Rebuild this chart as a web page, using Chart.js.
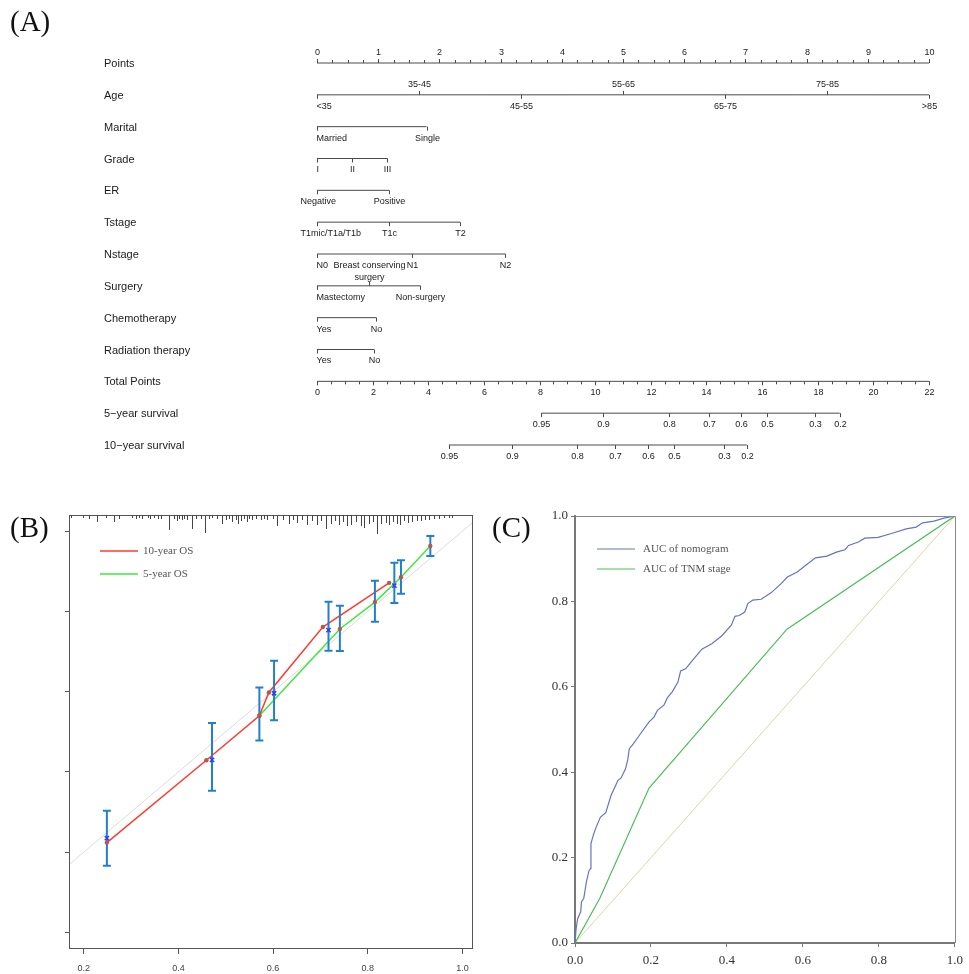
<!DOCTYPE html>
<html>
<head>
<meta charset="utf-8">
<script src="https://cdn.jsdelivr.net/npm/chart.js@4.4.1/dist/chart.umd.min.js"></script>
<style>
  body { margin: 0; background: #fff; }
  #wrap { position: relative; width: 969px; height: 974px; overflow: hidden; }
  canvas { position: absolute; }
  .tag { position: absolute; font: 29px/30px "Liberation Serif", "Times New Roman", serif; color: #111; }
</style>
</head>
<body>
<div id="wrap">
  <canvas id="nomo" width="969" height="470" style="left:0;top:0"></canvas>
  <canvas id="calib" width="490" height="479" style="left:0;top:495px"></canvas>
  <canvas id="roc" width="484" height="479" style="left:485px;top:495px"></canvas>
  <div class="tag" style="left:10px;top:6px">(A)</div>
  <div class="tag" style="left:10px;top:512px">(B)</div>
  <div class="tag" style="left:492px;top:512px">(C)</div>
</div>
<script>
( function () {
	'use strict';

	// ---- (A) nomogram: values in points (0-10) or total points (0-22) ----
	var pointTicks = [ 0, 1, 2, 3, 4, 5, 6, 7, 8, 9, 10 ];
	var ageLabels = [ '<35', '35-45', '45-55', '55-65', '65-75', '75-85', '>85' ];
	var agePoints = [ 0, 1.67, 3.33, 5, 6.67, 8.33, 10 ];
	var maritalLabels = [ 'Married', 'Single' ];
	var maritalPoints = [ 0, 1.79 ];
	var gradeLabels = [ 'I', 'II', 'III' ];
	var gradePoints = [ 0, 0.58, 1.15 ];
	var erLabels = [ 'Negative', 'Positive' ];
	var erPoints = [ 0, 1.18 ];
	var tLabels = [ 'T1mic/T1a/T1b', 'T1c', 'T2' ];
	var tPoints = [ 0, 1.18, 2.34 ];
	var nLabels = [ 'N0', 'N1', 'N2' ];
	var nPoints = [ 0, 1.55, 3.08 ];
	var surgeryLabels = [ 'Mastectomy', 'Breast conserving\nsurgery', 'Non-surgery' ];
	var surgeryPoints = [ 0, 0.85, 1.69 ];
	var chemoLabels = [ 'Yes', 'No' ];
	var chemoPoints = [ 0, 0.97 ];
	var radLabels = [ 'Yes', 'No' ];
	var radPoints = [ 0, 0.93 ];
	var totalTicks = [ 0, 2, 4, 6, 8, 10, 12, 14, 16, 18, 20, 22 ];
	var survLabels = [ '0.95', '0.9', '0.8', '0.7', '0.6', '0.5', '0.3', '0.2' ];
	var surv5Total = [ 8.06, 10.27, 12.65, 14.09, 15.23, 16.17, 17.89, 18.79 ];
	var surv10Total = [ 4.74, 7.0, 9.33, 10.72, 11.91, 12.85, 14.62, 15.45 ];

	// ---- (B) calibration ----
	var rugX = [ 0.173, 0.198, 0.212, 0.228, 0.247, 0.265, 0.275, 0.303, 0.310, 0.317,
		0.324, 0.335, 0.341, 0.349, 0.357, 0.363, 0.381, 0.391, 0.397, 0.402,
		0.407, 0.412, 0.419, 0.428, 0.437, 0.447, 0.456, 0.465, 0.472, 0.482,
		0.493, 0.500, 0.507, 0.514, 0.521, 0.525, 0.532, 0.539, 0.545, 0.549,
		0.556, 0.564, 0.574, 0.581, 0.588, 0.599, 0.609, 0.620, 0.634, 0.643,
		0.651, 0.662, 0.672, 0.683, 0.693, 0.702, 0.711, 0.722, 0.730, 0.739,
		0.748, 0.757, 0.765, 0.774, 0.785, 0.792, 0.803, 0.812, 0.820, 0.828,
		0.838, 0.845, 0.854, 0.861, 0.869, 0.876, 0.885, 0.894, 0.903, 0.912,
		0.920, 0.929, 0.940, 0.950, 0.961, 0.971, 0.978 ];
	var rugN = [ 2, 2, 3, 6, 2, 6, 3, 2, 3, 2,
		3, 2, 3, 2, 3, 3, 14, 3, 5, 3,
		4, 3, 4, 13, 3, 3, 17, 3, 2, 3,
		8, 4, 3, 6, 4, 8, 5, 3, 6, 3,
		4, 3, 4, 3, 4, 3, 10, 4, 8, 4,
		7, 4, 9, 5, 9, 5, 13, 8, 5, 9,
		6, 10, 9, 6, 10, 12, 8, 6, 18, 8,
		7, 9, 6, 8, 9, 5, 7, 6, 5, 5,
		4, 4, 3, 3, 2, 2, 2 ];
	var os10AppX = [ 0.249, 0.459, 0.571, 0.591, 0.705, 0.845 ];
	var os10AppY = [ 0.224, 0.429, 0.540, 0.598, 0.761, 0.871 ];
	var os10X = [ 0.249, 0.471, 0.602, 0.717, 0.856 ];
	var os10Y = [ 0.235, 0.430, 0.596, 0.753, 0.864 ];
	var os10Lo = [ 0.166, 0.353, 0.529, 0.702, 0.821 ];
	var os10Hi = [ 0.303, 0.522, 0.677, 0.824, 0.921 ];
	var os5X = [ 0.571, 0.741, 0.815, 0.870, 0.932 ];
	var os5Y = [ 0.540, 0.756, 0.823, 0.885, 0.963 ];
	var os5Lo = [ 0.478, 0.701, 0.774, 0.844, 0.938 ];
	var os5Hi = [ 0.610, 0.814, 0.876, 0.927, 0.988 ];
	var calTicksX = [ 0.2, 0.4, 0.6, 0.8, 1.0 ];
	var calTicksY = [ 0, 0.2, 0.4, 0.6, 0.8, 1.0 ];

	// ---- (C) ROC ----
	var rocFpr = [ 0, 0.003, 0.007, 0.015, 0.017, 0.023, 0.030, 0.037, 0.041, 0.042,
		0.048, 0.056, 0.067, 0.081, 0.095, 0.107, 0.113, 0.121, 0.133, 0.139,
		0.143, 0.154, 0.169, 0.195, 0.208, 0.217, 0.234, 0.243, 0.256, 0.271,
		0.278, 0.291, 0.317, 0.334, 0.360, 0.386, 0.412, 0.421, 0.432, 0.447,
		0.455, 0.468, 0.490, 0.516, 0.542, 0.559, 0.585, 0.611, 0.633, 0.663,
		0.690, 0.711, 0.720, 0.746, 0.763, 0.798, 0.833, 0.872, 0.898, 0.915,
		0.945, 0.971, 1.0 ];
	var rocTpr = [ 0, 0.034, 0.057, 0.073, 0.096, 0.104, 0.143, 0.170, 0.174, 0.233,
		0.252, 0.272, 0.295, 0.305, 0.346, 0.369, 0.381, 0.386, 0.408, 0.430,
		0.455, 0.467, 0.486, 0.518, 0.529, 0.545, 0.557, 0.574, 0.588, 0.611,
		0.637, 0.642, 0.670, 0.688, 0.701, 0.719, 0.745, 0.765, 0.767, 0.775,
		0.795, 0.803, 0.805, 0.820, 0.841, 0.857, 0.869, 0.887, 0.902, 0.906,
		0.916, 0.921, 0.931, 0.939, 0.948, 0.950, 0.959, 0.970, 0.974, 0.984,
		0.988, 0.995, 1.0 ];
	var tnmFpr = [ 0, 0.065, 0.195, 0.558, 1.0 ];
	var tnmTpr = [ 0, 0.104, 0.363, 0.735, 1.0 ];
	var rocTicks = [ 0, 0.2, 0.4, 0.6, 0.8, 1.0 ];

	var SANS = '"Liberation Sans", Arial, sans-serif';
	var SERIF = '"Liberation Serif", "Times New Roman", serif';
	var INK = '#1a1a1a';
	var AXIS = '#4a4a4a';

	function pairs( xs, ys ) {
		return xs.map( function ( x, i ) { return { x: x, y: ys[ i ] }; } );
	}
	function fixTicks( values ) {
		return function ( scale ) {
			scale.ticks = values.map( function ( v ) { return { value: v }; } );
		};
	}

	// ================= (A) =================
	var rows = [
		{ name: 'Points', axis: 'x', at: pointTicks, labels: pointTicks.map( String ), side: 'up', minor: 0.25 },
		{ name: 'Age', axis: 'x', at: agePoints, labels: ageLabels, side: 'alt', first: 'left' },
		{ name: 'Marital', axis: 'x', at: maritalPoints, labels: maritalLabels, first: 'left' },
		{ name: 'Grade', axis: 'x', at: gradePoints, labels: gradeLabels, first: 'left' },
		{ name: 'ER', axis: 'x', at: erPoints, labels: erLabels, first: 'left', lead: 16 },
		{ name: 'Tstage', axis: 'x', at: tPoints, labels: tLabels, first: 'left', lead: 16 },
		{ name: 'Nstage', axis: 'x', at: nPoints, labels: nLabels, first: 'left' },
		{ name: 'Surgery', axis: 'x', at: surgeryPoints, labels: surgeryLabels, first: 'left', above: [ 1 ] },
		{ name: 'Chemotherapy', axis: 'x', at: chemoPoints, labels: chemoLabels, first: 'left' },
		{ name: 'Radiation therapy', axis: 'x', at: radPoints, labels: radLabels, first: 'left' },
		{ name: 'Total Points', axis: 'x2', at: totalTicks, labels: totalTicks.map( String ), minor: 0.5 },
		{ name: '5\u2212year survival', axis: 'x2', at: surv5Total, labels: survLabels },
		{ name: '10\u2212year survival', axis: 'x2', at: surv10Total, labels: survLabels }
	];

	var nomoSets = rows.map( function ( row, i ) {
		return {
			data: [ { x: row.at[ 0 ], y: i }, { x: row.at[ row.at.length - 1 ], y: i } ],
			xAxisID: row.axis,
			yAxisID: 'y',
			showLine: true,
			borderColor: AXIS,
			borderWidth: 1,
			pointRadius: 0,
			clip: false
		};
	} );

	var nomoAxes = {
		id: 'nomoAxes',
		afterDatasetsDraw: function ( chart ) {
			var ctx = chart.ctx;
			var ys = chart.scales.y;
			ctx.save();
			ctx.strokeStyle = AXIS;
			ctx.fillStyle = INK;
			ctx.lineWidth = 1;
			rows.forEach( function ( row, i ) {
				var xs = chart.scales[ row.axis ];
				var y = ys.getPixelForValue( i );

				ctx.font = '11px ' + SANS;
				ctx.textAlign = 'left';
				ctx.textBaseline = 'middle';
				ctx.fillText( row.name, 104, y + 1 );

				var up = row.side === 'up';
				if ( row.minor ) {
					var hi = row.at[ row.at.length - 1 ];
					for ( var v = row.at[ 0 ]; v <= hi + 1e-9; v += row.minor ) {
						var mx = Math.round( xs.getPixelForValue( v ) ) + 0.5;
						ctx.beginPath();
						ctx.moveTo( mx, y );
						ctx.lineTo( mx, up ? y - 3 : y + 3 );
						ctx.stroke();
					}
				}

				ctx.font = '9px ' + SANS;
				row.at.forEach( function ( val, k ) {
					var above = up || ( row.side === 'alt' && k % 2 === 1 ) ||
						( row.above && row.above.indexOf( k ) >= 0 );
					var px = Math.round( xs.getPixelForValue( val ) ) + 0.5;
					ctx.beginPath();
					ctx.moveTo( px, y );
					ctx.lineTo( px, above ? y - 4 : y + 4 );
					ctx.stroke();

					var lx = px;
					ctx.textAlign = 'center';
					if ( k === 0 && row.first === 'left' ) {
						ctx.textAlign = 'left';
						lx = px - 1 - ( row.lead || 0 );
					}
					var lines = row.labels[ k ].split( '\n' );
					lines.forEach( function ( line, j ) {
						var ly;
						if ( above ) {
							ly = lines.length > 1 ? y - 8 - ( lines.length - 1 - j ) * 12 : y - 10.5;
						} else {
							ly = y + 11.5 + j * 12;
						}
						ctx.fillText( line, lx, ly );
					} );
				} );
			} );
			ctx.restore();
		}
	};

	new Chart( document.getElementById( 'nomo' ), {
		type: 'scatter',
		data: { datasets: nomoSets },
		options: {
			responsive: false,
			animation: false,
			events: [],
			layout: { padding: { left: 317, right: 40, top: 63, bottom: 25 } },
			plugins: { legend: { display: false }, tooltip: { enabled: false } },
			scales: {
				x: { type: 'linear', min: 0, max: 10, display: false },
				x2: { type: 'linear', axis: 'x', min: 0, max: 22, display: false },
				y: { type: 'linear', min: 0, max: 12, reverse: true, display: false }
			}
		},
		plugins: [ nomoAxes ]
	} );

	// ================= (B) =================
	var BAR = '#2180cc';
	var calExtras = {
		id: 'calExtras',
		afterDatasetDraw: function ( chart, args ) {
			if ( args.index !== 3 ) {
				return;
			}
			var ctx = chart.ctx;
			var xs = chart.scales.x;
			var ys = chart.scales.y;
			ctx.save();
			ctx.strokeStyle = BAR;
			ctx.lineWidth = 2;
			function bars( xv, lo, hi ) {
				xv.forEach( function ( v, i ) {
					var px = xs.getPixelForValue( v );
					var top = ys.getPixelForValue( hi[ i ] );
					var bot = ys.getPixelForValue( lo[ i ] );
					ctx.beginPath();
					ctx.moveTo( px, top );
					ctx.lineTo( px, bot );
					ctx.moveTo( px - 4, top );
					ctx.lineTo( px + 4, top );
					ctx.moveTo( px - 4, bot );
					ctx.lineTo( px + 4, bot );
					ctx.stroke();
				} );
			}
			bars( os10X, os10Lo, os10Hi );
			bars( os5X, os5Lo, os5Hi );
			ctx.restore();
		},
		afterDraw: function ( chart ) {
			var ctx = chart.ctx;
			var a = chart.chartArea;
			var xs = chart.scales.x;
			ctx.save();
			ctx.strokeStyle = '#555';
			ctx.lineWidth = 1;
			ctx.strokeRect( Math.round( a.left ) + 0.5, Math.round( a.top ) + 0.5,
				Math.round( a.right - a.left ), Math.round( a.bottom - a.top ) );
			// rug of predicted probabilities along the top
			ctx.strokeStyle = '#444';
			rugX.forEach( function ( v, i ) {
				var px = Math.round( xs.getPixelForValue( v ) ) + 0.5;
				ctx.beginPath();
				ctx.moveTo( px, a.top );
				ctx.lineTo( px, a.top + 1 + rugN[ i ] );
				ctx.stroke();
			} );
			// legend
			ctx.font = '11px ' + SERIF;
			ctx.textAlign = 'left';
			ctx.textBaseline = 'middle';
			[ [ '10-year OS', '#ff3b2f', 56 ], [ '5-year OS', '#3ee83e', 79 ] ].forEach( function ( item ) {
				ctx.strokeStyle = item[ 1 ];
				ctx.lineWidth = 1.5;
				ctx.beginPath();
				ctx.moveTo( 100, item[ 2 ] );
				ctx.lineTo( 138, item[ 2 ] );
				ctx.stroke();
				ctx.fillStyle = '#555';
				ctx.fillText( item[ 0 ], 143, item[ 2 ] );
			} );
			ctx.restore();
		}
	};

	new Chart( document.getElementById( 'calib' ), {
		type: 'scatter',
		data: {
			datasets: [
				{ data: pairs( os10X, os10Y ), pointStyle: 'crossRot', pointRadius: 3, borderColor: '#2f3cf5', borderWidth: 1.5 },
				{ data: pairs( os10AppX, os10AppY ), pointRadius: 2.2, backgroundColor: '#b8574e', borderWidth: 0 },
				{ data: pairs( os5X, os5Y ), pointRadius: 2.2, backgroundColor: '#b8574e', borderWidth: 0 },
				{ data: pairs( os10AppX, os10AppY ), showLine: true, borderColor: '#ff3b2f', borderWidth: 1.5, pointRadius: 0 },
				{ data: pairs( os5X, os5Y ), showLine: true, borderColor: '#3ee83e', borderWidth: 1.5, pointRadius: 0 },
				{ data: [ { x: 0, y: 0 }, { x: 1.1, y: 1.1 } ], showLine: true, borderColor: '#dcdcdc', borderWidth: 1, pointRadius: 0 }
			]
		},
		options: {
			responsive: false,
			animation: false,
			events: [],
			layout: { padding: { left: 0, top: 20, right: 18, bottom: 0 } },
			plugins: { legend: { display: false }, tooltip: { enabled: false } },
			scales: {
				x: {
					type: 'linear', min: 0.169, max: 1.02,
					afterBuildTicks: fixTicks( calTicksX ),
					afterFit: function ( s ) { s.height = 26; },
					grid: { drawOnChartArea: false, tickLength: 6, color: '#555' },
					border: { display: false },
					ticks: {
						padding: 9, color: '#444',
						font: { family: '"Liberation Sans Narrow", "Liberation Sans", sans-serif', size: 9 },
						callback: function ( v ) { return v.toFixed( 1 ); }
					}
				},
				y: {
					type: 'linear', min: -0.0386, max: 1.04,
					afterBuildTicks: fixTicks( calTicksY ),
					afterFit: function ( s ) { s.width = 69; },
					grid: { drawOnChartArea: false, tickLength: 4, color: '#555' },
					border: { display: false },
					ticks: { display: false }
				}
			}
		},
		plugins: [ calExtras ]
	} );

	// ================= (C) =================
	var rocExtras = {
		id: 'rocExtras',
		afterDraw: function ( chart ) {
			var ctx = chart.ctx;
			var a = chart.chartArea;
			ctx.save();
			ctx.strokeStyle = '#8a8a8a';
			ctx.lineWidth = 1;
			ctx.beginPath();
			ctx.moveTo( a.left, Math.round( a.top ) + 0.5 );
			ctx.lineTo( Math.round( a.right ) + 0.5, Math.round( a.top ) + 0.5 );
			ctx.lineTo( Math.round( a.right ) + 0.5, a.bottom );
			ctx.stroke();
			ctx.font = '11px ' + SERIF;
			ctx.textAlign = 'left';
			ctx.textBaseline = 'middle';
			[ [ 'AUC of nomogram', '#6673c2', 54 ], [ 'AUC of TNM stage', '#4cbf58', 74 ] ].forEach( function ( item ) {
				ctx.strokeStyle = item[ 1 ];
				ctx.lineWidth = 1.2;
				ctx.beginPath();
				ctx.moveTo( 112, item[ 2 ] );
				ctx.lineTo( 150, item[ 2 ] );
				ctx.stroke();
				ctx.fillStyle = '#555';
				ctx.fillText( item[ 0 ], 158, item[ 2 ] );
			} );
			ctx.restore();
		}
	};

	var rocTickFont = { family: SERIF, size: 13 };
	new Chart( document.getElementById( 'roc' ), {
		type: 'scatter',
		data: {
			datasets: [
				{ data: pairs( rocFpr, rocTpr ), showLine: true, borderColor: '#6673c2', borderWidth: 1.2, pointRadius: 0 },
				{ data: pairs( tnmFpr, tnmTpr ), showLine: true, borderColor: '#4cbf58', borderWidth: 1.2, pointRadius: 0 },
				{ data: [ { x: 0, y: 0 }, { x: 1, y: 1 } ], showLine: true, borderColor: '#dcd4ac', borderWidth: 1, pointRadius: 0 }
			]
		},
		options: {
			responsive: false,
			animation: false,
			events: [],
			layout: { padding: { left: 0, top: 21, right: 10, bottom: 0 } },
			plugins: { legend: { display: false }, tooltip: { enabled: false } },
			scales: {
				x: {
					type: 'linear', min: 0, max: 1,
					afterBuildTicks: fixTicks( rocTicks ),
					afterFit: function ( s ) { s.height = 31; },
					grid: { drawOnChartArea: false, tickLength: 4, color: '#777' },
					border: { color: '#777', width: 2 },
					ticks: { padding: 6, color: '#333', font: rocTickFont, callback: function ( v ) { return v.toFixed( 1 ); } }
				},
				y: {
					type: 'linear', min: 0, max: 1,
					afterBuildTicks: fixTicks( rocTicks ),
					afterFit: function ( s ) { s.width = 90; },
					grid: { drawOnChartArea: false, tickLength: 4, color: '#777' },
					border: { color: '#777', width: 2 },
					ticks: { padding: 3, color: '#333', font: rocTickFont, callback: function ( v ) { return v.toFixed( 1 ); } }
				}
			}
		},
		plugins: [ rocExtras ]
	} );
} )();
</script>
</body>
</html>
